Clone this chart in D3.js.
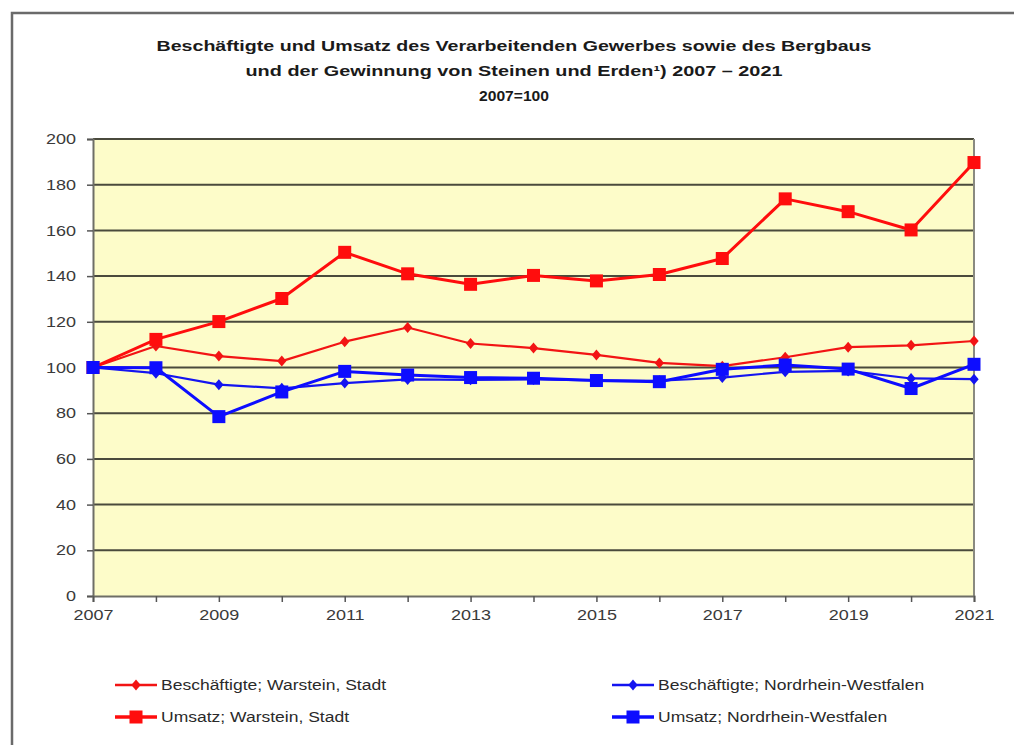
<!DOCTYPE html>
<html>
<head>
<meta charset="utf-8">
<script src="https://cdn.jsdelivr.net/npm/d3@7"></script>
<style>
  html, body { margin: 0; padding: 0; background: #ffffff; }
  svg { display: block; }
  text { font-family: "Liberation Sans", Arial, sans-serif; }
</style>
</head>
<body>
<svg id="chart" width="1014" height="745"></svg>
<script>
// Index values, 2007 = 100
const years = [2007, 2008, 2009, 2010, 2011, 2012, 2013, 2014, 2015, 2016, 2017, 2018, 2019, 2020, 2021];
const beschWarstein = [100, 109.4, 105.0, 102.8, 111.3, 117.5, 110.5, 108.5, 105.5, 102.0, 100.6, 104.5, 108.9, 109.7, 111.6];
const umsatzWarstein = [100, 112.3, 120.1, 130.2, 150.4, 141.0, 136.4, 140.3, 137.9, 140.7, 147.7, 173.8, 168.2, 160.2, 189.7];
const beschNRW = [100, 97.5, 92.5, 90.9, 93.2, 94.8, 94.6, 94.8, 94.4, 94.2, 95.6, 98.1, 98.5, 95.2, 94.9];
const umsatzNRW = [100, 99.9, 78.5, 89.3, 98.3, 96.7, 95.6, 95.3, 94.3, 93.8, 99.2, 101.1, 99.3, 90.8, 101.4];
const yTicks = [0, 20, 40, 60, 80, 100, 120, 140, 160, 180, 200];
const xLabelYears = [2007, 2009, 2011, 2013, 2015, 2017, 2019, 2021];
const titleLines = [
  "Beschäftigte und Umsatz des Verarbeitenden Gewerbes sowie des Bergbaus",
  "und der Gewinnung von Steinen und Erden\u00b9) 2007 \u2013 2021",
  "2007=100"
];

const series = [
  { name: "Beschäftigte; Warstein, Stadt", values: beschWarstein, color: "#f21414", width: 2.2, marker: "diamond", col: 0, row: 0 },
  { name: "Umsatz; Warstein, Stadt", values: umsatzWarstein, color: "#ff0d0d", width: 3, marker: "square", col: 0, row: 1 },
  { name: "Beschäftigte; Nordrhein-Westfalen", values: beschNRW, color: "#1414f0", width: 2.2, marker: "diamond", col: 1, row: 0 },
  { name: "Umsatz; Nordrhein-Westfalen", values: umsatzNRW, color: "#0d0dff", width: 3, marker: "square", col: 1, row: 1 }
];

const svg = d3.select("#chart");
const STRETCH = 1.24;

// widen text horizontally to the look of the exported chart font
function stretch(sel, k) {
  sel.each(function () {
    const w = this.getComputedTextLength();
    d3.select(this).attr("textLength", w * k).attr("lengthAdjust", "spacingAndGlyphs");
  });
}

// outer frame
svg.append("rect")
  .attr("x", 12).attr("y", 13)
  .attr("width", 1030).attr("height", 760)
  .attr("fill", "none").attr("stroke", "#6a6a6a").attr("stroke-width", 2.5);

// title
const titleWidths = [715, 537, 70];
svg.append("g").selectAll("text").data(titleLines).join("text")
  .attr("x", 514)
  .attr("y", (d, i) => 51 + i * 25)
  .attr("text-anchor", "middle")
  .attr("font-weight", "bold")
  .attr("font-size", 15)
  .attr("fill", "#1a1a1a")
  .attr("textLength", (d, i) => titleWidths[i])
  .attr("lengthAdjust", "spacingAndGlyphs")
  .text(d => d);

// plot area
const plotLeft = 93, plotRight = 974, plotTop = 139, plotBottom = 596;
const x = d3.scaleLinear().domain([years[0], years[years.length - 1]]).range([plotLeft, plotRight]);
const y = d3.scaleLinear().domain([0, 200]).range([plotBottom, plotTop]);

svg.append("rect")
  .attr("x", plotLeft).attr("y", plotTop)
  .attr("width", plotRight - plotLeft).attr("height", plotBottom - plotTop)
  .attr("fill", "#fdfcc9");

// horizontal gridlines
svg.append("g").selectAll("line").data(yTicks.filter(v => v > 0)).join("line")
  .attr("x1", plotLeft).attr("x2", plotRight)
  .attr("y1", d => y(d)).attr("y2", d => y(d))
  .attr("stroke", "#4a4a3c").attr("stroke-width", 2);

// right border
svg.append("line")
  .attr("x1", plotRight).attr("x2", plotRight).attr("y1", plotTop).attr("y2", plotBottom)
  .attr("stroke", "#8a8a80").attr("stroke-width", 2);

// y axis
const yAxis = svg.append("g")
  .attr("transform", `translate(${plotLeft},0)`)
  .call(d3.axisLeft(y).tickValues(yTicks).tickSize(6).tickPadding(11));
yAxis.select(".domain").attr("stroke", "#6e6e66").attr("stroke-width", 2);
yAxis.selectAll(".tick line").attr("stroke", "#555").attr("stroke-width", 1.5);
yAxis.selectAll(".tick text")
  .attr("font-size", 14.5).attr("fill", "#3a3a3a")
  .style("font-family", "'Liberation Sans', Arial, sans-serif")
  .call(stretch, STRETCH);

// x axis
const xAxis = svg.append("g")
  .attr("transform", `translate(0,${plotBottom})`)
  .call(d3.axisBottom(x).tickValues(years).tickSize(6).tickPadding(8)
    .tickFormat(d => xLabelYears.includes(d) ? String(d) : ""));
xAxis.select(".domain").attr("stroke", "#6e6e66").attr("stroke-width", 2);
xAxis.selectAll(".tick line").attr("stroke", "#555").attr("stroke-width", 1.5);
xAxis.selectAll(".tick text")
  .attr("font-size", 14.5).attr("fill", "#3a3a3a")
  .style("font-family", "'Liberation Sans', Arial, sans-serif")
  .call(stretch, STRETCH);

// marker shapes
function diamondPath(cx, cy, r) {
  return `M${cx},${cy - r}L${cx + r * 0.85},${cy}L${cx},${cy + r}L${cx - r * 0.85},${cy}Z`;
}
function drawMarker(g, kind, cx, cy, color) {
  if (kind === "square") {
    g.append("rect").attr("x", cx - 6.5).attr("y", cy - 6.5)
      .attr("width", 13).attr("height", 13).attr("fill", color);
  } else {
    g.append("path").attr("d", diamondPath(cx, cy, 5.5)).attr("fill", color);
  }
}

// series lines and markers
const line = d3.line().x((d, i) => x(years[i])).y(d => y(d));
series.forEach(s => {
  const g = svg.append("g");
  g.append("path")
    .attr("d", line(s.values))
    .attr("fill", "none")
    .attr("stroke", s.color)
    .attr("stroke-width", s.width)
    .attr("stroke-linejoin", "round");
  s.values.forEach((v, i) => drawMarker(g, s.marker, x(years[i]), y(v), s.color));
});

// legend
const legendCols = [115, 612];
const legendRows = [685, 717];
series.forEach(s => {
  const lx = legendCols[s.col], ly = legendRows[s.row];
  const g = svg.append("g");
  g.append("line")
    .attr("x1", lx).attr("x2", lx + 42).attr("y1", ly).attr("y2", ly)
    .attr("stroke", s.color).attr("stroke-width", s.width + 0.5);
  drawMarker(g, s.marker, lx + 21, ly, s.color);
  g.append("text")
    .attr("x", lx + 46).attr("y", ly + 5)
    .attr("font-size", 14).attr("fill", "#2a2a2a")
    .text(s.name)
    .call(stretch, 1.25);
});
</script>
</body>
</html>
